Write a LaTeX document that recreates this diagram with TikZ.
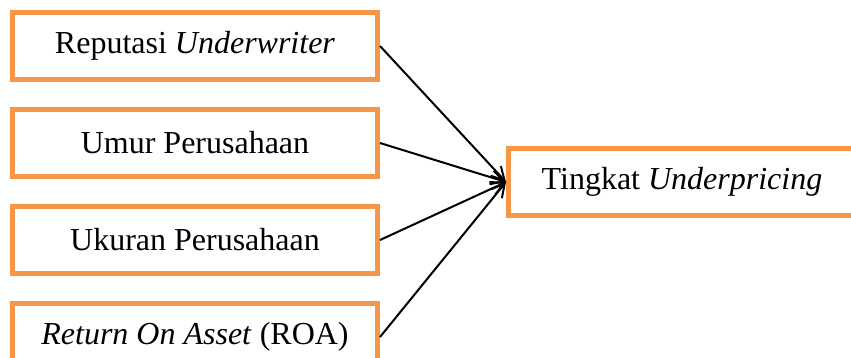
\documentclass[tikz,border=0pt]{standalone}
\usepackage{fontspec}
\setmainfont{Liberation Serif}
\usetikzlibrary{arrows.meta, positioning}
\definecolor{boxorange}{HTML}{F79646}

\begin{document}
\begin{tikzpicture}[align=center,node distance=48.5pt,font=\fontsize{16}{19}\selectfont]
\tikzstyle{factor}=[rectangle,draw=boxorange,line width=2.5pt,minimum width=182.5pt,minimum height=33.5pt,inner sep=0pt]
\tikzstyle{target}=[factor,minimum width=173.5pt]
\tikzstyle{effect}=[-{Straight Barb[length=6.5pt,width=7pt]},line width=1pt]

\useasboundingbox (0,0) rectangle (425.5pt,-179pt);

\node[factor] (rep) at (97.5pt,-23pt) {Reputasi \textit{Underwriter}};
\node[factor] (umur) [below of = rep] {Umur Perusahaan};
\node[factor] (ukuran) [below of = umur] {Ukuran Perusahaan};
\node[factor] (roa) [below of = ukuran] {\textit{Return On Asset} (ROA)};

\node[target] (under) at (341pt,-91pt) {Tingkat \textit{Underpricing}};

\path
  (rep.east) edge [effect] (under.west)
  (umur.east) edge [effect] (under.west)
  (ukuran.east) edge [effect] (under.west)
  (roa.east) edge [effect] (under.west);
\end{tikzpicture}
\end{document}
